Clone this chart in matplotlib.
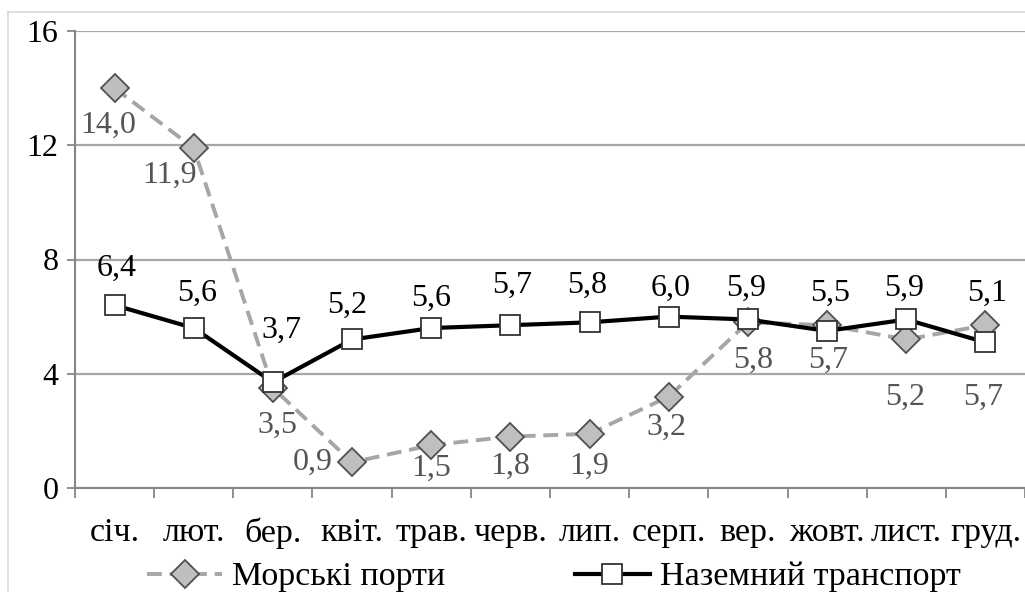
import numpy as np
import matplotlib.pyplot as plt
from matplotlib.lines import Line2D

months = ['січ.', 'лют.', 'бер.', 'квіт.', 'трав.', 'черв.', 'лип.', 'серп.',
          'вер.', 'жовт.', 'лист.', 'груд.']
sea_ports = [14.0, 11.9, 3.5, 0.9, 1.5, 1.8, 1.9, 3.2, 5.8, 5.7, 5.2, 5.7]
land_transport = [6.4, 5.6, 3.7, 5.2, 5.6, 5.7, 5.8, 6.0, 5.9, 5.5, 5.9, 5.1]
y_ticks = [0, 4, 8, 12, 16]

# label offsets in pixels (as placed in the original chart)
sea_off = [(-6, -37), (-24, -27), (5, -37), (-39, 0), (0, -23), (0, -30),
           (0, -33), (-2, -31), (5, -38), (1, -35), (-1, -58), (-2, -72)]
land_off = [(2, 37), (3, 35), (9, 52), (-5, 34), (0, 30), (2, 40),
            (-2, 37), (2, 28), (-2, 31), (3, 38), (-2, 31), (2, 49)]

plt.rcParams['font.family'] = ['Liberation Serif', 'DejaVu Serif']
FS = 23
FS_CAT = 24.5

fig = plt.figure(figsize=(10.25, 5.92), dpi=100)
ax = fig.add_axes([75 / 1025, 104 / 592, 950 / 1025, 457 / 592])

x = np.arange(len(months))
sea_col = '#a6a6a6'
sea_style = dict(color=sea_col, lw=2.8, ls=(0, (3.8, 2.0)), marker='D',
                 ms=14, mfc='#bfbfbf', mec='#505050', mew=1.3)
land_style = dict(color='black', lw=3.0, marker='s', ms=15, mfc='white',
                  mec='#333333', mew=1.3)
ax.plot(x, sea_ports, zorder=3, **sea_style)
ax.plot(x, land_transport, zorder=4, **land_style)

for i, v in enumerate(sea_ports):
    ax.annotate(f'{v:.1f}'.replace('.', ','), (x[i], v), xytext=sea_off[i],
                textcoords='offset pixels', ha='center', va='center',
                fontsize=FS, color='#555555', zorder=5)
for i, v in enumerate(land_transport):
    ax.annotate(f'{v:.1f}'.replace('.', ','), (x[i], v), xytext=land_off[i],
                textcoords='offset pixels', ha='center', va='center',
                fontsize=FS, color='black', zorder=5)

ax.set_xlim(-0.5, len(months) - 0.5)
ax.set_ylim(0, 16)
ax.set_yticks(y_ticks)
ax.set_yticklabels([str(t) for t in y_ticks], fontsize=FS)
ax.set_xticks(x)
ax.set_xticklabels(months, fontsize=FS_CAT)
ax.set_xticks(np.arange(len(months) + 1) - 0.5, minor=True)
ax.tick_params(axis='x', which='major', length=0, pad=21)
ax.tick_params(axis='x', which='minor', length=7, width=1.3, color='#868686')
ax.tick_params(axis='y', length=6, width=1.3, color='#868686', pad=6)

ax.yaxis.grid(True, color='#a6a6a6', lw=1.6)
ax.set_axisbelow(True)
for s in ['top', 'right']:
    ax.spines[s].set_visible(False)
for s in ['left', 'bottom']:
    ax.spines[s].set_color('#868686')
    ax.spines[s].set_linewidth(1.5)

# chart border lines
fig.add_artist(Line2D([8 / 1025, 1], [1 - 12 / 592, 1 - 12 / 592],
                      color='#d9d9d9', lw=1.2))
fig.add_artist(Line2D([8 / 1025, 8 / 1025], [0, 1 - 12 / 592],
                      color='#d9d9d9', lw=1.2))

handles = [Line2D([], [], **sea_style), Line2D([], [], **land_style)]
fig.legend(handles, ['Морські порти', 'Наземний транспорт'], loc='center',
           bbox_to_anchor=(554 / 1025, 1 - 577 / 592), ncol=2, frameon=False,
           fontsize=FS_CAT, handlelength=2.2, handletextpad=0.3,
           columnspacing=3.8, borderpad=0)

fig.savefig('out.png', dpi=100)
